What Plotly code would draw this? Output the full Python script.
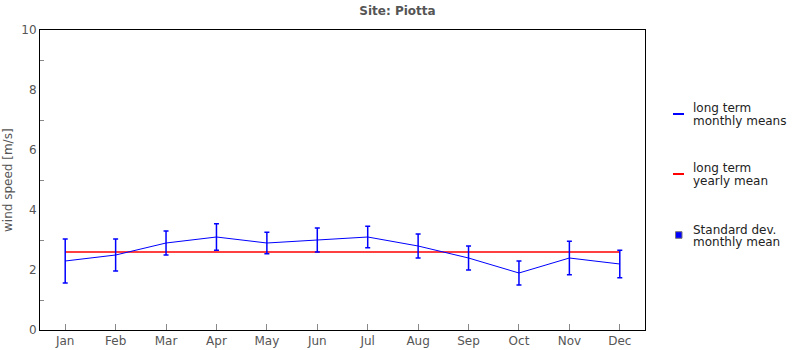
import plotly.graph_objects as go

# Long-term monthly wind statistics for the Piotta site
months = ["Jan", "Feb", "Mar", "Apr", "May", "Jun",
          "Jul", "Aug", "Sep", "Oct", "Nov", "Dec"]
monthly_mean = [2.3, 2.5, 2.9, 3.1, 2.9, 3.0, 3.1, 2.8, 2.4, 1.9, 2.4, 2.2]
monthly_sd = [0.73, 0.53, 0.40, 0.44, 0.36, 0.40, 0.36, 0.40, 0.40, 0.40, 0.56, 0.46]
yearly_mean = 2.6

FONT = "DejaVu Sans"
BLUE = "#0000ff"
RED = "#ff0000"

fig = go.Figure()

# yearly mean as a flat line across the months
fig.add_trace(go.Scatter(
    x=months, y=[yearly_mean] * len(months), mode="lines",
    line=dict(color=RED, width=1.3), hoverinfo="skip",
))

# monthly means with standard deviation bars
fig.add_trace(go.Scatter(
    x=months, y=monthly_mean, mode="lines",
    line=dict(color=BLUE, width=1),
    error_y=dict(type="data", array=monthly_sd, visible=True,
                 color=BLUE, thickness=1.5, width=2.5),
))

# legend drawn as paper-space shapes and labels
legend_items = [
    ("line", BLUE, 114, 108, ["long term", "monthly means"]),
    ("line", RED, 174, 168, ["long term", "yearly mean"]),
    ("box", BLUE, 235, 229.5, ["Standard dev.", "monthly mean"]),
]

W, H = 795, 350
ML, MR, MT, MB = 40, 150, 30, 20
pw, ph = W - ML - MR, H - MT - MB


def px_x(x):
    return (x - ML) / pw


def px_y(y):
    return 1 - (y - MT) / ph


shapes = []
annotations = []
for kind, color, ys, yt, lines in legend_items:
    if kind == "line":
        shapes.append(dict(type="line", xref="paper", yref="paper",
                           x0=px_x(673), x1=px_x(684), y0=px_y(ys), y1=px_y(ys),
                           line=dict(color=color, width=2)))
    else:
        shapes.append(dict(type="rect", xref="paper", yref="paper",
                           x0=px_x(675.5), x1=px_x(682), y0=px_y(ys - 3.3), y1=px_y(ys + 3.3),
                           fillcolor=color, line=dict(color="#777777", width=1)))
    for i, line_text in enumerate(lines):
        annotations.append(dict(
            xref="paper", yref="paper", x=px_x(691), y=px_y(yt + 12.5 * i),
            xanchor="left", yanchor="middle", align="left", showarrow=False,
            text=line_text, font=dict(family=FONT, size=12, color="#222222"),
        ))

# y-axis title
annotations.append(dict(
    xref="paper", yref="paper", x=px_x(8), y=px_y(180),
    xanchor="center", yanchor="middle", textangle=-90, showarrow=False,
    text="wind speed [m/s]", font=dict(family=FONT, size=12, color="#555555"),
))

fig.update_layout(
    width=W, height=H,
    margin=dict(l=ML, r=MR, t=MT, b=MB, pad=0, autoexpand=False),
    paper_bgcolor="white", plot_bgcolor="white",
    showlegend=False,
    title=dict(text="<b>Site: Piotta</b>", x=0.5, xanchor="center",
               y=1 - 11 / H, yanchor="middle",
               font=dict(family=FONT, size=12, color="#555555")),
    font=dict(family=FONT, size=12, color="#555555"),
    shapes=shapes, annotations=annotations,
)

fig.update_xaxes(
    range=[-0.5, 11.5], showgrid=False, zeroline=False, automargin=False,
    showline=True, linecolor="black", linewidth=1, mirror=True,
    ticks="inside", ticklen=6, tickcolor="#888888", tickwidth=1,
    tickfont=dict(family=FONT, size=12, color="#555555"),
)
fig.update_yaxes(
    range=[0, 10], dtick=2, tick0=0, showgrid=False, zeroline=False, automargin=False,
    showline=True, linecolor="black", linewidth=1, mirror=True,
    ticks="", ticklen=0,
    minor=dict(ticks="inside", tick0=1, dtick=2, ticklen=4,
               tickcolor="#888888", tickwidth=1, showgrid=False),
    tickfont=dict(family=FONT, size=12, color="#555555"),
)

fig.write_html("out.html")
